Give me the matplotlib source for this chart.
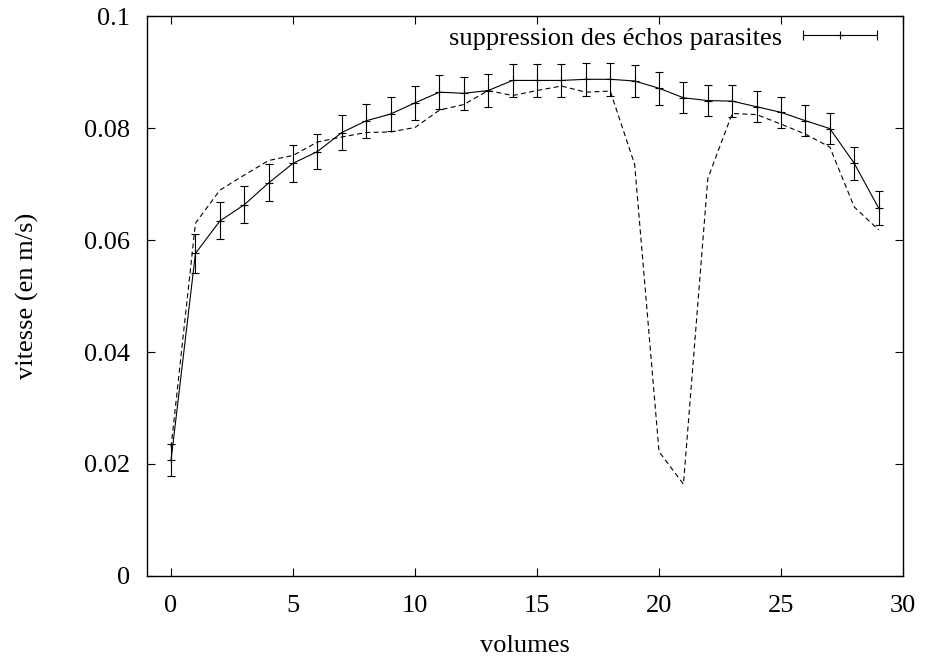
import matplotlib
matplotlib.use("Agg")
import matplotlib.pyplot as plt
from matplotlib.lines import Line2D
from matplotlib.legend_handler import HandlerLine2D, HandlerTuple

plt.rcParams['font.family'] = ['Liberation Serif', 'DejaVu Serif']

volumes = list(range(30))
vitesse_filtre = [0.0207, 0.0576, 0.0634, 0.0663, 0.0702, 0.0737, 0.0758, 0.0792, 0.0813, 0.0825,
                  0.0845, 0.0864, 0.0862, 0.0867, 0.0885, 0.0885, 0.0885, 0.0887, 0.0887, 0.0884,
                  0.0871, 0.0854, 0.0849, 0.0848, 0.0838, 0.0828, 0.0813, 0.0799, 0.0737, 0.0657]
erreur = [0.0029, 0.0035, 0.0033, 0.0033, 0.0033, 0.0033, 0.0032, 0.0032, 0.0030, 0.0031,
          0.0030, 0.0030, 0.0030, 0.0030, 0.0029, 0.0029, 0.0029, 0.0029, 0.0029, 0.0028,
          0.0029, 0.0028, 0.0028, 0.0028, 0.0028, 0.0028, 0.0028, 0.0028, 0.0030, 0.0030]
vitesse_brute = [0.0230, 0.0630, 0.0689, 0.0716, 0.0742, 0.0751, 0.0775, 0.0784, 0.0792, 0.0793,
                 0.0801, 0.0832, 0.0842, 0.0867, 0.0858, 0.0867, 0.0875, 0.0864, 0.0866, 0.0735,
                 0.0222, 0.0164, 0.0710, 0.0826, 0.0824, 0.0807, 0.0789, 0.0766, 0.0659, 0.0618]

legend_label = "suppression des échos parasites"
x_ticks = [0, 5, 10, 15, 20, 25, 30]
y_ticks = [0, 0.02, 0.04, 0.06, 0.08, 0.1]
y_ticklabels = ["0", "0.02", "0.04", "0.06", "0.08", "0.1"]

FS = 19

fig = plt.figure(figsize=(9.3, 6.57), dpi=100)
ax = fig.add_axes([0.1577, 0.1233, 0.9710 - 0.1577, 0.9756 - 0.1233])

ax.plot(volumes, vitesse_brute, color='black', lw=0.8, dashes=(4.5, 3))
ax.errorbar(volumes, vitesse_filtre, yerr=erreur, color='black', lw=0.8,
            elinewidth=0.8, capsize=3, capthick=0.8, marker='+', markersize=6,
            markeredgewidth=0.8)

ax.set_xlim(-1, 30)
ax.set_ylim(0, 0.1)
ax.set_xticks(x_ticks)
ax.set_xticklabels([str(t) for t in x_ticks])
ax.set_yticks(y_ticks)
ax.set_yticklabels(y_ticklabels)
ax.tick_params(direction='in', top=True, right=True, length=6, width=0.8,
               labelsize=FS)
ax.tick_params(axis='x', pad=14)
ax.tick_params(axis='y', pad=12)
for s in ax.spines.values():
    s.set_linewidth(1.0)

ax.set_xlabel("volumes", fontsize=FS, labelpad=13)
ax.set_ylabel("vitesse (en m/s)", fontsize=FS, labelpad=32)

# legend sample like gnuplot errorbar key
line_h = Line2D([], [], color='black', lw=0.8, marker='+', markersize=6, markeredgewidth=0.8)
cap_h = Line2D([], [], color='black', lw=0, marker='|', markersize=7, markeredgewidth=0.8)
ax.legend([(line_h, cap_h)], [legend_label], loc='upper right', frameon=False,
          bbox_to_anchor=(0.983, 1.0054),
          fontsize=FS, markerfirst=False, handlelength=2.8, handletextpad=0.8,
          borderaxespad=0.3, borderpad=0.2, numpoints=1,
          handler_map={tuple: HandlerTuple(ndivide=1, pad=0),
                       cap_h: HandlerLine2D(numpoints=2, marker_pad=0)})

fig.savefig("out.png", dpi=100)
